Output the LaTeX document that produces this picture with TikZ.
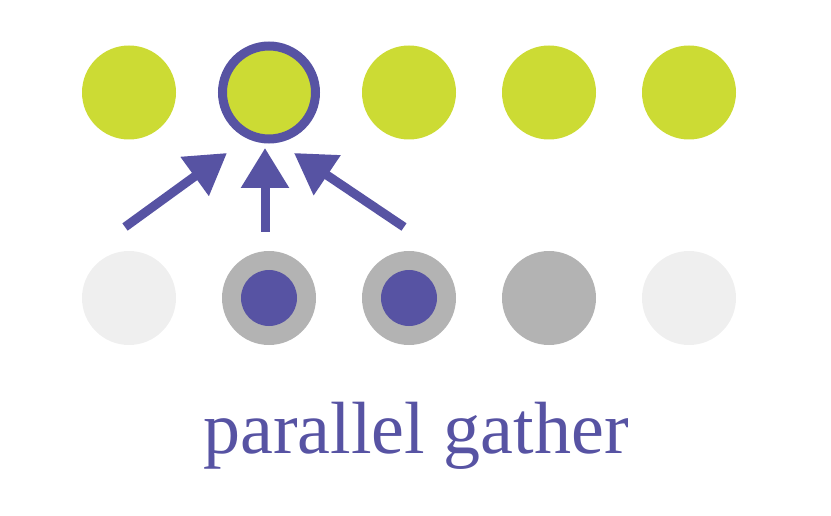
\documentclass[tikz,border=0pt]{standalone}
\usepackage{fontspec}
\setmainfont{Liberation Serif}
\usetikzlibrary{arrows.meta}
\definecolor{lime}{HTML}{CCDB34}
\definecolor{purp}{HTML}{5753A3}
\definecolor{gry}{HTML}{B3B3B3}
\definecolor{lgry}{HTML}{EFEFEF}
\begin{document}
\begin{tikzpicture}[x=1pt,y=-1pt,
  dot/.style={circle,inner sep=0pt,outer sep=0pt,minimum size=94pt},
  topdot/.style={dot,fill=lime},
  seldot/.style={dot,fill=lime,draw=purp,line width=9pt,minimum size=93pt},
  botdot/.style={dot,fill=gry},
  faintdot/.style={dot,fill=lgry},
  innerdot/.style={circle,inner sep=0pt,outer sep=0pt,minimum size=56pt,fill=purp},
  arr/.style={draw=purp,line width=9pt,-{Triangle[length=40pt,width=46pt]}}]
\useasboundingbox (0,0) rectangle (831,516);
% top row
\node[topdot] (t1) at (129,92.5) {};
\node[seldot] (t2) at (269,92.5) {};
\node[topdot] (t3) at (409,92.5) {};
\node[topdot] (t4) at (549,92.5) {};
\node[topdot] (t5) at (689,92.5) {};
% bottom row
\node[faintdot] (b1) at (129,298) {};
\node[botdot] (b2) at (269,298) {};
\node[botdot] (b3) at (409,298) {};
\node[botdot] (b4) at (549,298) {};
\node[faintdot] (b5) at (689,298) {};
\node[innerdot] (i2) at (b2) {};
\node[innerdot] (i3) at (b3) {};
% arrows
\coordinate (a1s) at (125,227);
\coordinate (a1e) at (227,153);
\coordinate (a2s) at (265,232);
\coordinate (a2e) at (265,148);
\coordinate (a3s) at (404,227);
\coordinate (a3e) at (294,153);
\draw[arr] (a1s) -- (a1e);
\draw[arr] (a2s) -- (a2e);
\draw[arr] (a3s) -- (a3e);
% label
\node[anchor=base,text=purp,font=\fontsize{74}{84}\selectfont,inner sep=0pt] (lbl) at (416,453) {parallel gather};
\end{tikzpicture}
\end{document}
